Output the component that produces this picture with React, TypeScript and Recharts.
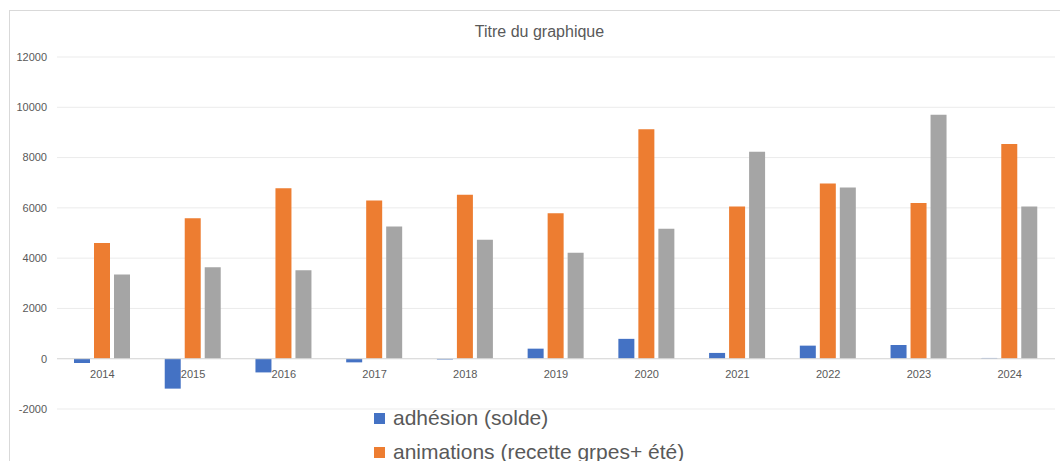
import React from 'react';
import { BarChart, Bar, XAxis, YAxis, CartesianGrid, Legend, ReferenceLine } from 'recharts';

// values
const years = ['2014', '2015', '2016', '2017', '2018', '2019', '2020', '2021', '2022', '2023', '2024'];
const adhesion = [-170, -1190, -545, -145, -30, 400, 790, 230, 520, 545, 30];
const animations = [4600, 5590, 6780, 6290, 6520, 5790, 9130, 6050, 6970, 6190, 8540];
const serie3 = [3350, 3640, 3520, 5260, 4730, 4210, 5165, 8230, 6810, 9700, 6050];
const yTicks = [-2000, 0, 2000, 4000, 6000, 8000, 10000, 12000];

const seriesNames = ['adhésion (solde)', 'animations (recette grpes+ été)', 'série 3'];
const seriesColors = ['#4472C4', '#ED7D31', '#A5A5A5'];

const chartData = years.map((year, i) => ({
  year,
  adhesion: adhesion[i],
  animations: animations[i],
  serie3: serie3[i],
}));

const FONT = '"Liberation Sans", Arial, sans-serif';
const WIDTH = 1060;
const HEIGHT = 461;
const MARGIN = { top: 57, right: 5, bottom: 32, left: 0 };
const X_AXIS_HEIGHT = 20;
const Y_MIN = -2000;
const Y_MAX = 12000;

// year labels sit just under the zero line, like Excel does
const plotHeight = HEIGHT - MARGIN.top - MARGIN.bottom - X_AXIS_HEIGHT;
const zeroShift = (plotHeight * (0 - Y_MIN)) / (Y_MAX - Y_MIN);

const YearTick = ({ x, y, payload }: any) => (
  <text
    x={x}
    y={y - zeroShift + 19}
    textAnchor="middle"
    fill="#595959"
    fontSize={11}
    fontFamily={FONT}
  >
    {payload.value}
  </text>
);

const LegendContent = () => (
  <ul style={{ listStyle: 'none', margin: 0, padding: 0, fontFamily: FONT }}>
    {seriesNames.map((name, i) => (
      <li
        key={name}
        style={{ display: 'flex', alignItems: 'center', height: 34, fontSize: 21, color: '#595959', whiteSpace: 'nowrap' }}
      >
        <span style={{ display: 'inline-block', width: 11, height: 11, background: seriesColors[i], marginRight: 8 }} />
        {name}
      </li>
    ))}
  </ul>
);

export default function App() {
  return (
    <div style={{ position: 'relative', width: WIDTH, height: HEIGHT, overflow: 'hidden', background: '#fff' }}>
      <style>{'body{margin:0;overflow:hidden;}'}</style>
      <div
        style={{
          position: 'absolute',
          left: 9,
          top: 10,
          width: 1061,
          height: 500,
          border: '1px solid #d9d9d9',
          boxSizing: 'border-box',
        }}
      />
      <div
        style={{
          position: 'absolute',
          left: 9,
          width: 1061,
          top: 23,
          textAlign: 'center',
          fontFamily: FONT,
          fontSize: 16,
          color: '#595959',
        }}
      >
        Titre du graphique
      </div>
      <div style={{ position: 'absolute', left: 0, top: 0 }}>
        <BarChart width={WIDTH} height={HEIGHT} data={chartData} margin={MARGIN} barSize={16} barGap={4}>
          <CartesianGrid vertical={false} stroke="#ebebeb" />
          <XAxis
            dataKey="year"
            height={X_AXIS_HEIGHT}
            axisLine={false}
            tickLine={false}
            tickSize={0}
            tickMargin={0}
            tick={<YearTick />}
            interval={0}
          />
          <YAxis
            width={57}
            domain={[Y_MIN, Y_MAX]}
            ticks={yTicks}
            axisLine={false}
            tickLine={false}
            tickSize={0}
            tickMargin={10}
            tick={{ fill: '#595959', fontSize: 11, fontFamily: FONT }}
          />
          <ReferenceLine y={0} stroke="#d9d9d9" />
          <Legend
            layout="vertical"
            align="center"
            verticalAlign="middle"
            content={<LegendContent />}
            wrapperStyle={{ left: 374, top: 401, width: 420 }}
          />
          <Bar dataKey="adhesion" name={seriesNames[0]} fill={seriesColors[0]} isAnimationActive={false} />
          <Bar dataKey="animations" name={seriesNames[1]} fill={seriesColors[1]} isAnimationActive={false} />
          <Bar dataKey="serie3" name={seriesNames[2]} fill={seriesColors[2]} isAnimationActive={false} />
        </BarChart>
      </div>
    </div>
  );
}
